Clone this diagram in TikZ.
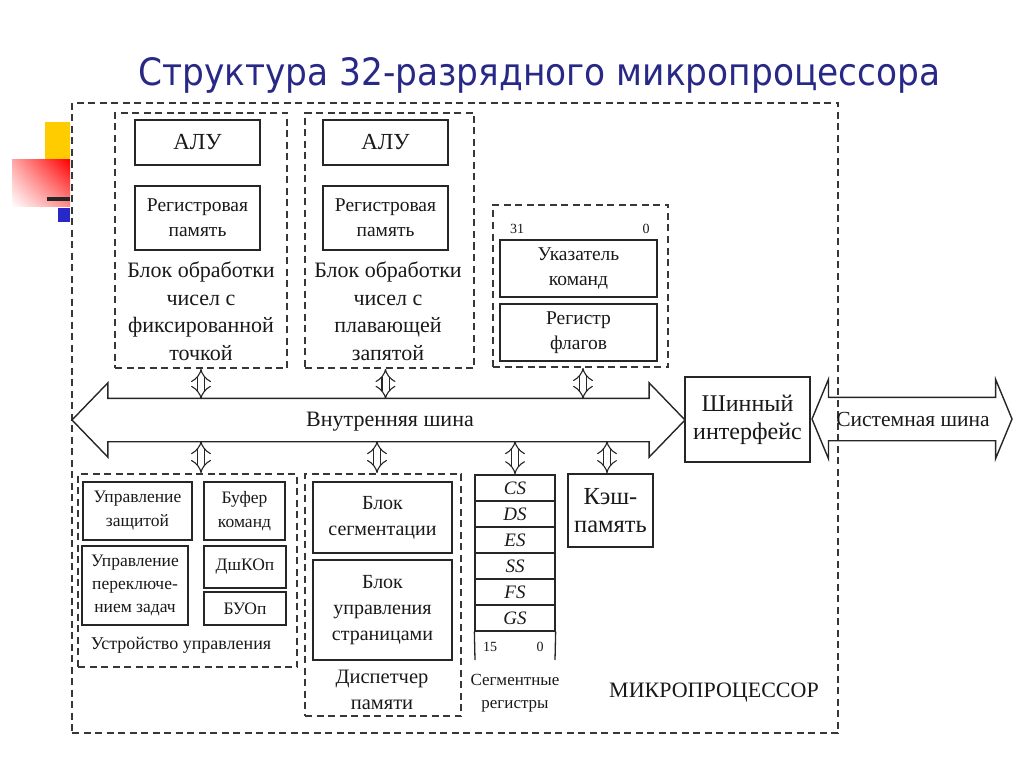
\documentclass[tikz,border=0pt]{standalone}
\usepackage{graphicx}
\usepackage{fontspec}
\setmainfont{Liberation Serif}
\newfontfamily\titlefont{DejaVu Sans}
\usetikzlibrary{shapes.arrows,arrows.meta,shadings}
\definecolor{titleblue}{RGB}{40,40,135}
\definecolor{dashgray}{RGB}{55,55,55}
\definecolor{decoyellow}{RGB}{255,204,0}
\definecolor{decoblue}{RGB}{40,40,200}
\newcommand\fsz[2]{\fontsize{#1}{#2}\selectfont}
\tikzset{
  grp/.style={draw=dashgray, line width=1.7pt, dash pattern=on 7pt off 4.5pt, inner sep=0pt},
  blk/.style={draw=black!85, line width=1.5pt, inner sep=0pt, align=center, text=black!90},
  lbl/.style={inner sep=0pt, align=center, text=black!90},
  segreg/.style={draw=black!85, line width=1.3pt, minimum width=80pt, minimum height=26pt, inner sep=0pt, font={\fsz{19}{20}\itshape}, text=black!90},
  dbl/.style={draw=black!85, line width=1.1pt, double distance=6pt, {Implies}-{Implies}},
  bigbus/.style={draw=black!85, line width=1.4pt, double arrow, inner xsep=0pt, inner ysep=21pt}
}
\begin{document}
\begin{tikzpicture}[x=1pt,y=-1pt]
\useasboundingbox (0,0) rectangle (1024,767);
% decoration
\fill[decoyellow] (45,122) rectangle (70,160);
\shade[upper right=red, lower left=white, upper left=red!35!white, lower right=red!45!white] (12,160) rectangle (70,207);
\fill[black!85] (47,197) rectangle (70,201);
\fill[decoblue] (58,208) rectangle (70,222);
% title
\node[anchor=base west, inner sep=0pt, text=titleblue] (title) at (138,86)
  {\resizebox{802pt}{28pt}{\titlefont Структура 32-разрядного микропроцессора}};
% outer box
\node[grp, minimum width=766pt, minimum height=630pt] (mp) at (455,418) {};
\node[lbl, font=\fsz{22}{24}] (mplbl) at (714,693) {МИКРОПРОЦЕССОР};
% fixed point block
\node[grp, minimum width=172pt, minimum height=255pt] (fix) at (201,240.5) {};
\node[blk, minimum width=125pt, minimum height=45pt, font=\fsz{23}{24}] (alu1) at (197.5,142.5) {АЛУ};
\node[blk, minimum width=125pt, minimum height=64pt, font=\fsz{19.5}{25}] (reg1) at (197.5,218) {Регистровая\\память};
\node[lbl, font=\fsz{22}{27.5}] (fixlbl) at (201,311) {Блок обработки\\чисел с\\фиксированной\\точкой};
% floating point block
\node[grp, minimum width=169pt, minimum height=255pt] (flt) at (389.5,240.5) {};
\node[blk, minimum width=125pt, minimum height=45pt, font=\fsz{23}{24}] (alu2) at (385.5,142.5) {АЛУ};
\node[blk, minimum width=125pt, minimum height=64pt, font=\fsz{19.5}{25}] (reg2) at (385.5,218) {Регистровая\\память};
\node[lbl, font=\fsz{22}{27.5}] (fltlbl) at (388,311) {Блок обработки\\чисел с\\плавающей\\запятой};
% instruction pointer / flags
\node[grp, minimum width=175pt, minimum height=162pt] (ipg) at (580.5,286) {};
\node[lbl, font=\fsz{14}{16}] (b31) at (517,229) {31};
\node[lbl, font=\fsz{14}{16}] (b0) at (646,229) {0};
\node[blk, minimum width=157pt, minimum height=57pt, font=\fsz{19.5}{25}] (ip) at (578.5,268.5) {Указатель\\команд};
\node[blk, minimum width=157pt, minimum height=57pt, font=\fsz{19.5}{25}] (flags) at (578.5,332.5) {Регистр\\флагов};
% bus interface and buses
\node[blk, minimum width=125pt, minimum height=85pt, font=\fsz{24}{28}] (iface) at (747.5,419.5) {Шинный\\интерфейс};
\node[bigbus, minimum height=613pt, double arrow head extend=15.5pt, double arrow tip angle=92] (ibus) at (378.5,420) {};
\node[lbl, font=\fsz{22}{24}] (ibuslbl) at (390,422) {Внутренняя шина};
\node[bigbus, minimum height=200pt, double arrow head extend=18pt, double arrow tip angle=135] (sbus) at (912,419) {};
\node[lbl, font=\fsz{21.5}{24}] (sbuslbl) at (913,419) {Системная шина};
\coordinate (ibusT) at (378.5,399);
\coordinate (ibusB) at (378.5,441);
% control unit
\node[grp, minimum width=219pt, minimum height=193pt] (ctrl) at (187.5,570.5) {};
\node[blk, minimum width=109pt, minimum height=58pt, font=\fsz{17.5}{24}] (prot) at (137.5,511) {Управление\\защитой};
\node[blk, minimum width=81pt, minimum height=58pt, font=\fsz{17.5}{24}] (buf) at (244.5,511) {Буфер\\команд};
\node[blk, minimum width=106pt, minimum height=79pt, font=\fsz{17.5}{23}] (task) at (135,585.5) {Управление\\переключе-\\нием задач};
\node[blk, minimum width=82pt, minimum height=42pt, font=\fsz{17.5}{18}] (dsh) at (245,567) {ДшКОп};
\node[blk, minimum width=82pt, minimum height=33pt, font=\fsz{17.5}{18}] (buo) at (245,608.5) {БУОп};
\node[lbl, font=\fsz{18}{20}] (ctrllbl) at (181,645) {Устройство управления};
% memory dispatcher
\node[grp, minimum width=156pt, minimum height=242pt] (disp) at (383,595) {};
\node[blk, minimum width=139pt, minimum height=71pt, font=\fsz{20}{26}] (seg) at (382.5,517.5) {Блок\\сегментации};
\node[blk, minimum width=139pt, minimum height=100pt, font=\fsz{20}{26}] (page) at (382.5,610) {Блок\\управления\\страницами};
\node[lbl, font=\fsz{20.5}{26}] (displbl) at (382,690) {Диспетчер\\памяти};
% segment registers
\node[segreg] (cs) at (515,488) {CS};
\node[segreg] (ds) at (515,514) {DS};
\node[segreg] (es) at (515,540) {ES};
\node[segreg] (ss) at (515,566) {SS};
\node[segreg] (fs) at (515,592) {FS};
\node[segreg] (gs) at (515,618) {GS};
\coordinate (gsL) at (475,660);
\coordinate (gsR) at (555,660);
\draw[black!85, line width=1.3pt] (gs.south west) -- (gsL);
\draw[black!85, line width=1.3pt] (gs.south east) -- (gsR);
\node[lbl, font=\fsz{14}{16}] (b15) at (490,647) {15};
\node[lbl, font=\fsz{14}{16}] (b00) at (540,647) {0};
\node[lbl, font=\fsz{17}{23}] (seglbl) at (515,693) {Сегментные\\регистры};
% cache
\node[blk, minimum width=85pt, minimum height=73pt, font=\fsz{24.5}{28}] (cache) at (610.5,510.5) {Кэш-\\память};
% small bus connectors
\draw[dbl] (fix.south) -- (fix.south |- ibusT);
\draw[dbl] ([xshift=-4pt]flt.south) -- ([xshift=-4pt]flt.south |- ibusT);
\draw[dbl] ([xshift=2.5pt]ipg.south) -- ([xshift=2.5pt]ipg.south |- ibusT);
\draw[dbl] (fix.south |- ibusB) -- (fix.south |- ctrl.north);
\draw[dbl] ([xshift=-6pt]disp.north |- ibusB) -- ([xshift=-6pt]disp.north);
\draw[dbl] (cs.north |- ibusB) -- (cs.north);
\draw[dbl] ([xshift=-3.5pt]cache.north |- ibusB) -- ([xshift=-3.5pt]cache.north);
\end{tikzpicture}
\end{document}
